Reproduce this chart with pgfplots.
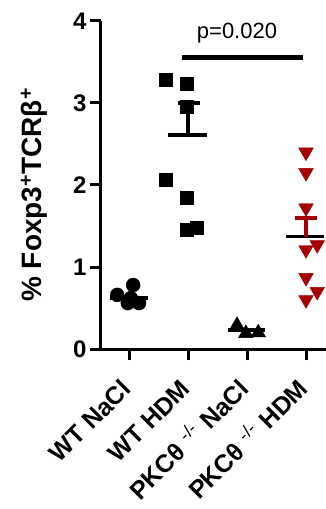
\documentclass[border=0pt]{standalone}
\usepackage{fontspec}
\setmainfont{Liberation Sans}
\usepackage{pgfplots}
\pgfplotsset{compat=1.18}
\definecolor{dred}{RGB}{165,0,0}
\begin{document}
\begin{tikzpicture}
\begin{axis}[
  name=ax,
  x=59pt, y=82pt,
  xmin=-0.475, xmax=3.6,
  ymin=0, ymax=4,
  axis x line*=bottom,
  axis y line*=left,
  axis line style={line width=3pt, -},
  every tick/.style={black, line width=3pt},
  tick align=outside,
  major tick length=11pt,
  xtick={0,1,2,3},
  xticklabels={WT NaCl, WT HDM, {PKCθ\hspace{8pt}\textsuperscript{\mdseries -/-}\hspace{8pt}NaCl}, {PKCθ\hspace{8pt}\textsuperscript{\mdseries -/-}\hspace{8pt}HDM}},
  ytick={0,1,2,3,4},
  /pgf/number format/assume math mode=true,
  yticklabel style={font=\bfseries\fontsize{24}{24}\selectfont, xshift=0pt},
  xticklabel style={font=\bfseries\fontsize{25}{25}\selectfont, xshift=6pt, yshift=-28pt, rotate=45, anchor=base east},
  ylabel={\% Foxp3\textsuperscript{+}TCRβ\textsuperscript{+}},
  ylabel style={font=\bfseries\fontsize{28}{28}\selectfont, at={(ticklabel cs:0.47)}},
  ylabel shift=19pt,
  clip=false,
]
% WT NaCl circles
\addplot[only marks, mark=*, mark size=7pt, black] coordinates {
 (-0.2,0.66) (0.07,0.78) (-0.02,0.56) (0.17,0.56) (0.03,0.62)};
% WT HDM squares
\addplot[only marks, mark=square*, mark size=6.5pt, black] coordinates {
 (0.63,3.28) (0.98,3.24) (0.98,2.95) (0.63,2.07) (0.98,1.84) (0.98,1.45) (1.15,1.48)};
% PKC NaCl triangles
\addplot[only marks, mark=triangle*, mark size=8.5pt, black] coordinates {
 (1.83,0.29) (1.98,0.19) (2.19,0.20)};
% PKC HDM down triangles
\addplot[only marks, mark=triangle*, mark size=8.5pt, dred, mark options={rotate=180, fill=dred}] coordinates {
 (3,2.40) (3,2.15) (3,1.72) (3,1.21) (3.19,1.27) (3,0.87) (3.19,0.70) (3,0.60)};
% mean lines
\addplot[black, line width=3.5pt, mark=none] coordinates {(-0.33,0.62) (0.32,0.62)};
\addplot[black, line width=3.5pt, mark=none] coordinates {(0.66,2.61) (1.32,2.61)};
\addplot[black, line width=3.5pt, mark=none] coordinates {(1.68,0.23) (2.31,0.23)};
\addplot[black, line width=3.5pt, mark=none] coordinates {(2.66,1.37) (3.31,1.37)};
% SEM bars
\addplot[black, line width=4pt, mark=none] coordinates {(1,2.61) (1,3.0)};
\addplot[black, line width=3.5pt, mark=none] coordinates {(0.83,3.0) (1.2,3.0)};
\addplot[dred, line width=4pt, mark=none] coordinates {(3,1.37) (3,1.60)};
\addplot[dred, line width=3.5pt, mark=none] coordinates {(2.81,1.60) (3.19,1.60)};
% significance
\addplot[black, line width=5pt, mark=none] coordinates {(0.9,3.56) (2.95,3.56)};
\node[font=\fontsize{22}{22}\selectfont] at (axis cs:1.83,3.85) {p=0.020};
\end{axis}
\pgfresetboundingbox
\path[use as bounding box] ([shift={(-101pt,-160pt)}]ax.south west) rectangle ++(325pt,509pt);
\end{tikzpicture}
\end{document}
